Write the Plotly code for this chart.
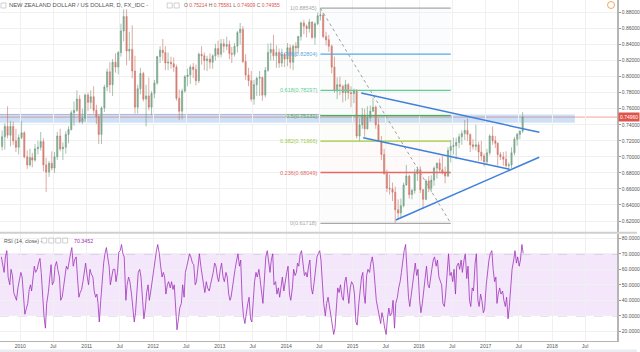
import pandas as pd
import plotly.graph_objects as go

# ---------------- DATA (semi-monthly candles) ----------------
first_open = 0.7130
high = [
    # 2009 (from 16 Sep)
    0.7330, 0.7420, 0.7630, 0.7446, 0.7440, 0.7350, 0.7280,
    # 2010
    0.7450, 0.7320, 0.7080, 0.7100, 0.7050, 0.7160, 0.7200, 0.7310, 0.7230, 0.6990, 0.6950, 0.7070,
    0.7060, 0.7310, 0.7350, 0.7180, 0.7320, 0.7380, 0.7580, 0.7690, 0.7830, 0.7770, 0.7600, 0.7790,
    # 2011
    0.7800, 0.7830, 0.7880, 0.7650, 0.7520, 0.7630, 0.7900, 0.8100, 0.8180, 0.8220, 0.8290, 0.8320,
    0.8660, 0.8840, 0.8840, 0.8560, 0.8640, 0.8260, 0.7900, 0.8110, 0.8060, 0.7900, 0.7990, 0.7820,
    # 2012
    0.7960, 0.8260, 0.8380, 0.8470, 0.8380, 0.8300, 0.8250, 0.8240, 0.8150, 0.7840, 0.7850, 0.8020,
    0.8100, 0.8150, 0.8170, 0.8150, 0.8300, 0.8380, 0.8300, 0.8260, 0.8290, 0.8280, 0.8410, 0.8450,
    # 2013
    0.8470, 0.8470, 0.8500, 0.8450, 0.8370, 0.8420, 0.8570, 0.8670, 0.8630, 0.8280, 0.8110, 0.8070,
    0.7960, 0.8000, 0.8070, 0.8000, 0.8120, 0.8410, 0.8420, 0.8520, 0.8390, 0.8350, 0.8350, 0.8300,
    # 2014
    0.8420, 0.8400, 0.8400, 0.8430, 0.8510, 0.8690, 0.8710, 0.8650, 0.8720, 0.8690, 0.8680, 0.8800,
    0.8855, 0.8800, 0.8560, 0.8520, 0.8400, 0.8250, 0.7990, 0.8000, 0.7900, 0.7960, 0.7920, 0.7880,
    # 2015
    0.7850, 0.7840, 0.7480, 0.7610, 0.7600, 0.7630, 0.7640, 0.7740, 0.7640, 0.7480, 0.7260, 0.7100,
    0.6840, 0.6780, 0.6680, 0.6630, 0.6470, 0.6480, 0.6680, 0.6900, 0.6780, 0.6600, 0.6850, 0.6880,
    # 2016
    0.6880, 0.6600, 0.6720, 0.6760, 0.6770, 0.6880, 0.6930, 0.6980, 0.7010, 0.6880, 0.7120, 0.7210,
    0.7240, 0.7240, 0.7290, 0.7330, 0.7460, 0.7480, 0.7290, 0.7220, 0.7400, 0.7190, 0.7200, 0.7040,
    # 2017
    0.7100, 0.7280, 0.7380, 0.7260, 0.7180, 0.7060, 0.7060, 0.7070, 0.6930, 0.7120, 0.7250, 0.7300,
    0.7330, 0.7558,
]
low = [
    0.7080, 0.7090, 0.7230, 0.7130, 0.7150, 0.7060, 0.7030,
    0.7220, 0.6980, 0.6850, 0.6880, 0.6870, 0.6940, 0.7030, 0.7080, 0.6820, 0.6560, 0.6750, 0.6830,
    0.6800, 0.6960, 0.7070, 0.6960, 0.7040, 0.7170, 0.7330, 0.7390, 0.7560, 0.7420, 0.7410, 0.7440,
    0.7570, 0.7600, 0.7540, 0.7410, 0.7160, 0.7160, 0.7560, 0.7820, 0.7800, 0.7760, 0.8050, 0.8030,
    0.8250, 0.8440, 0.8140, 0.8200, 0.7980, 0.7540, 0.7540, 0.7780, 0.7690, 0.7380, 0.7580, 0.7520,
    0.7730, 0.7900, 0.8170, 0.8200, 0.8080, 0.8080, 0.8100, 0.8060, 0.7700, 0.7460, 0.7470, 0.7800,
    0.7880, 0.7910, 0.7980, 0.7890, 0.7920, 0.8150, 0.8080, 0.8070, 0.8100, 0.8100, 0.8200, 0.8240,
    0.8240, 0.8300, 0.8330, 0.8220, 0.8170, 0.8250, 0.8300, 0.8400, 0.8170, 0.7960, 0.7880, 0.7690,
    0.7650, 0.7760, 0.7760, 0.7700, 0.7740, 0.8060, 0.8200, 0.8200, 0.8110, 0.8110, 0.8120, 0.8120,
    0.8130, 0.8100, 0.8080, 0.8250, 0.8290, 0.8450, 0.8530, 0.8490, 0.8550, 0.8470, 0.8400, 0.8640,
    0.8700, 0.8480, 0.8390, 0.8310, 0.8040, 0.7800, 0.7720, 0.7770, 0.7680, 0.7700, 0.7720, 0.7620,
    0.7670, 0.7230, 0.7190, 0.7350, 0.7250, 0.7340, 0.7440, 0.7560, 0.7350, 0.7190, 0.6960, 0.6780,
    0.6560, 0.6530, 0.6450, 0.6172, 0.6220, 0.6240, 0.6370, 0.6640, 0.6480, 0.6470, 0.6540, 0.6700,
    0.6550, 0.6350, 0.6460, 0.6560, 0.6560, 0.6640, 0.6730, 0.6800, 0.6780, 0.6670, 0.6750, 0.6930,
    0.7030, 0.6970, 0.7110, 0.7150, 0.7210, 0.7200, 0.7060, 0.7090, 0.7080, 0.6950, 0.6950, 0.6880,
    0.6900, 0.7020, 0.7150, 0.7110, 0.6890, 0.6960, 0.6890, 0.6870, 0.6820, 0.6860, 0.7020, 0.7140,
    0.7220, 0.7300,
]
close = [
    0.7250, 0.7380, 0.7270, 0.7380, 0.7200, 0.7120, 0.7240,
    0.7300, 0.7000, 0.6900, 0.6990, 0.6960, 0.7100, 0.7120, 0.7190, 0.6900, 0.6810, 0.6920, 0.6860,
    0.7000, 0.7260, 0.7100, 0.7120, 0.7280, 0.7340, 0.7550, 0.7580, 0.7720, 0.7440, 0.7480, 0.7770,
    0.7680, 0.7750, 0.7580, 0.7500, 0.7280, 0.7610, 0.7870, 0.8060, 0.7900, 0.8180, 0.8120, 0.8300,
    0.8570, 0.8750, 0.8320, 0.8340, 0.8070, 0.7620, 0.7850, 0.8040, 0.7720, 0.7760, 0.7620, 0.7790,
    0.7920, 0.8250, 0.8330, 0.8300, 0.8170, 0.8180, 0.8160, 0.8120, 0.7730, 0.7570, 0.7820, 0.8000,
    0.8020, 0.8120, 0.8090, 0.7950, 0.8280, 0.8260, 0.8200, 0.8220, 0.8180, 0.8260, 0.8350, 0.8280,
    0.8410, 0.8380, 0.8400, 0.8290, 0.8280, 0.8380, 0.8550, 0.8590, 0.8190, 0.8020, 0.7950, 0.7720,
    0.7900, 0.7980, 0.7990, 0.7770, 0.8080, 0.8300, 0.8340, 0.8260, 0.8300, 0.8170, 0.8280, 0.8220,
    0.8360, 0.8180, 0.8380, 0.8360, 0.8500, 0.8670, 0.8630, 0.8600, 0.8680, 0.8490, 0.8660, 0.8760,
    0.8770, 0.8500, 0.8460, 0.8380, 0.8120, 0.7820, 0.7900, 0.7880, 0.7800, 0.7900, 0.7800, 0.7790,
    0.7830, 0.7260, 0.7400, 0.7520, 0.7350, 0.7490, 0.7570, 0.7620, 0.7400, 0.7200, 0.7030, 0.6790,
    0.6610, 0.6600, 0.6560, 0.6340, 0.6300, 0.6390, 0.6650, 0.6760, 0.6530, 0.6580, 0.6790, 0.6840,
    0.6590, 0.6470, 0.6700, 0.6610, 0.6710, 0.6860, 0.6920, 0.6840, 0.6800, 0.6760, 0.7080, 0.7130,
    0.7140, 0.7180, 0.7250, 0.7290, 0.7330, 0.7280, 0.7150, 0.7130, 0.7150, 0.7060, 0.7010, 0.6940,
    0.7050, 0.7260, 0.7200, 0.7170, 0.7030, 0.7000, 0.6970, 0.6890, 0.6900, 0.7050, 0.7220, 0.7280,
    0.7320, 0.7496,
]

# RSI(14, close), four readings per month
rsi_2009 = [68, 64, 58, 68, 72, 55, 50, 60, 56, 45, 42, 40, 48, 52]
rsi_2010 = [58, 55, 40, 31, 35, 38, 47, 50, 46, 55, 62, 58, 60, 64, 67, 58,
            42, 30, 22, 38, 45, 56, 63, 50, 52, 62, 65, 60, 55, 40, 42, 48,
            58, 62, 60, 66, 70, 74, 62, 66, 68, 55, 42, 45, 47, 52, 58, 64]
rsi_2011 = [55, 50, 60, 57, 55, 46, 42, 44, 38, 26, 40, 52, 64, 70, 74, 68,
            62, 50, 56, 60, 60, 52, 58, 71, 72, 76, 70, 68, 40, 50, 55, 52,
            44, 35, 26, 32, 48, 58, 60, 55, 40, 28, 35, 45, 50, 40, 46, 52]
rsi_2012 = [62, 66, 72, 76, 70, 62, 55, 58, 55, 44, 50, 52, 48, 52, 47, 50,
            32, 21, 28, 35, 38, 50, 42, 58, 62, 66, 70, 68, 64, 63, 50, 52,
            64, 70, 62, 55, 50, 45, 52, 48, 46, 50, 54, 58, 64, 62, 55, 52]
rsi_2013 = [60, 64, 55, 52, 58, 55, 44, 40, 42, 48, 56, 60, 66, 70, 62, 66,
            40, 30, 25, 32, 38, 42, 28, 26, 40, 52, 58, 55, 60, 52, 42, 38,
            55, 68, 72, 64, 58, 66, 70, 50, 52, 44, 48, 42, 50, 55, 46, 52]
rsi_2014 = [58, 62, 44, 40, 48, 60, 56, 58, 64, 62, 70, 72, 62, 56, 58, 55,
            62, 66, 48, 44, 52, 60, 68, 70, 72, 66, 50, 38, 30, 38, 42, 36,
            28, 24, 18, 22, 35, 48, 45, 50, 42, 40, 52, 55, 46, 38, 48, 52]
rsi_2015 = [50, 44, 26, 24, 38, 48, 55, 58, 44, 38, 56, 60, 58, 64, 68, 62,
            50, 40, 35, 30, 25, 32, 28, 22, 18, 28, 35, 30, 32, 40, 22, 38,
            42, 48, 52, 58, 66, 72, 76, 58, 42, 36, 44, 48, 58, 64, 56, 60]
rsi_2016 = [40, 32, 38, 44, 55, 62, 50, 48, 56, 60, 66, 68, 62, 66, 55, 52,
            50, 38, 36, 44, 62, 70, 56, 58, 52, 60, 44, 62, 64, 60, 66, 58,
            66, 70, 54, 62, 40, 36, 48, 46, 64, 70, 40, 36, 44, 40, 32, 34]
rsi_2017 = [50, 58, 66, 70, 72, 60, 52, 55, 38, 44, 48, 44, 46, 40, 36, 42,
            28, 36, 52, 60, 66, 72, 64, 68, 62, 66, 76, 70.3452]

# Fibonacci retracement (2014 high -> 2015 low)
fib_ratios = ["1", "0.786", "0.618", "0.5", "0.382", "0.236", "0"]
fib_prices = [0.88545, 0.82804, 0.78297, 0.75131, 0.71966, 0.68049, 0.61718]
fib_colors = ["#a8a8a8", "#5aa8e2", "#62cc96", "#4cae50", "#9ccb3c", "#e46a66", "#a8a8a8"]
fib_start, fib_end = "2014-07-08", "2016-06-23"

# Trend lines (date, price)
trend_lines = [
    (("2015-02-17", 0.7796), ("2017-10-23", 0.7306)),
    (("2015-02-28", 0.7239), ("2017-05-12", 0.6845)),
    (("2015-08-26", 0.6213), ("2017-10-22", 0.6995)),
]
zone_low, zone_high = 0.7425, 0.7529
zone_end = "2018-05-06"
last_price = 0.7496

price_ticks = [0.62, 0.64, 0.66, 0.68, 0.70, 0.72, 0.74, 0.76, 0.78, 0.80, 0.82, 0.84, 0.86, 0.88]
rsi_ticks = [20, 30, 40, 50, 60, 70, 80]
time_ticks = ["2010-01-01", "2010-07-01", "2011-01-01", "2011-07-01", "2012-01-01", "2012-07-01",
              "2013-01-01", "2013-07-01", "2014-01-01", "2014-07-01", "2015-01-01", "2015-07-01",
              "2016-01-01", "2016-07-01", "2017-01-01", "2017-07-01", "2018-01-01", "2018-07-01"]
time_labels = ["2010", "Jul", "2011", "Jul", "2012", "Jul", "2013", "Jul", "2014", "Jul",
               "2015", "Jul", "2016", "Jul", "2017", "Jul", "2018", "Jul"]

# ---------------- build series ----------------
months = pd.date_range("2009-09-01", "2017-07-01", freq="MS")
period_starts = []
for m in months:
    period_starts.append(m)
    period_starts.append(m + pd.Timedelta(days=15))
period_starts = period_starts[1:]
candle_dates = [p + pd.Timedelta(days=7) for p in period_starts]
opens = [first_open] + close[:-1]
n = min(len(candle_dates), len(high), len(low), len(close))

rsi_vals = rsi_2009 + rsi_2010 + rsi_2011 + rsi_2012 + rsi_2013 + rsi_2014 + rsi_2015 + rsi_2016 + rsi_2017
rsi_dates = []
for i, m in enumerate(months):
    days = (19, 26) if i == 0 else (4, 11, 19, 26)
    for d in days:
        rsi_dates.append(m + pd.Timedelta(days=d - 1))
nr = min(len(rsi_dates), len(rsi_vals))

FONT = "Liberation Sans, Arial, sans-serif"
W, H = 640, 352
PW, PH = 620, 341          # plot area in px
T0 = pd.Timestamp("2010-01-01")
PX_PER_YEAR = 66.8
x_start = T0 + pd.Timedelta(days=(0 - 20.4) / PX_PER_YEAR * 365.25)
x_end = T0 + pd.Timedelta(days=(PW - 20.4) / PX_PER_YEAR * 365.25)

def px(x):
    return x / PW

def py(y):
    return (PH - y) / PH

main_range = [0.88 - (232 - 12.5) / 802, 0.88 + 12.5 / 802]
rsi_range = [80 - (341 - 238.3) / 1.55, 80 - (234 - 238.3) / 1.55]

fig = go.Figure()
fig.add_trace(go.Candlestick(
    x=candle_dates[:n], open=opens[:n], high=high[:n], low=low[:n], close=close[:n],
    increasing=dict(line=dict(color="#6b9a7e", width=0.6), fillcolor="#86b89b"),
    decreasing=dict(line=dict(color="#c97266", width=0.6), fillcolor="#e2877a"),
    whiskerwidth=0,
    xaxis="x", yaxis="y", showlegend=False, hoverinfo="skip"))
fig.add_trace(go.Scatter(
    x=rsi_dates[:nr], y=rsi_vals[:nr], mode="lines",
    line=dict(color="rgba(160,50,185,0.8)", width=1),
    xaxis="x2", yaxis="y2", showlegend=False, hoverinfo="skip"))

shapes = []
# support/resistance zone and last price line
shapes.append(dict(type="line", xref="paper", yref="y", x0=0, x1=1, y0=last_price, y1=last_price,
                   line=dict(color="#f2a29b", width=1), layer="below"))
shapes.append(dict(type="rect", xref="x", yref="y", x0=str(x_start), x1=zone_end, y0=zone_low, y1=zone_high,
                   fillcolor="rgba(80,145,220,0.28)", line=dict(width=0), layer="below"))
shapes.append(dict(type="line", xref="x", yref="y", x0=str(x_start), x1=fib_start, y0=zone_high, y1=zone_high,
                   line=dict(color="rgba(160,150,185,0.7)", width=1), layer="below"))
# fib background and lines
for i in range(len(fib_prices) - 1):
    c = fib_colors[i + 1].lstrip("#")
    r, g, b = int(c[0:2], 16), int(c[2:4], 16), int(c[4:6], 16)
    shapes.append(dict(type="rect", xref="x", yref="y", x0=fib_start, x1=fib_end,
                       y0=fib_prices[i + 1], y1=fib_prices[i],
                       fillcolor=f"rgba({r},{g},{b},0.03)", line=dict(width=0), layer="below"))
shapes.append(dict(type="line", xref="x", yref="y", x0=fib_start, x1=fib_end,
                   y0=fib_prices[0], y1=fib_prices[-1],
                   line=dict(color="#a0a0a0", width=1, dash="dot")))
for p, c in zip(fib_prices, fib_colors):
    shapes.append(dict(type="line", xref="x", yref="y", x0=fib_start, x1=fib_end, y0=p, y1=p,
                       line=dict(color=c, width=1.3)))
for (a, b) in trend_lines:
    shapes.append(dict(type="line", xref="x", yref="y", x0=a[0], y0=a[1], x1=b[0], y1=b[1],
                       line=dict(color="#4080dc", width=1.5)))
# RSI band
shapes.append(dict(type="rect", xref="paper", yref="y2", x0=0, x1=1, y0=30, y1=70,
                   fillcolor="#f4e7fc", line=dict(width=0), layer="below"))
for v in (30, 70):
    shapes.append(dict(type="line", xref="paper", yref="y2", x0=0, x1=1, y0=v, y1=v,
                       line=dict(color="rgba(170,140,190,0.8)", width=1, dash="dash"), layer="below"))
# pane separator
shapes.append(dict(type="line", xref="paper", yref="paper", x0=0, x1=W / PW, y0=py(232.8), y1=py(232.8),
                   line=dict(color="#cfcfcf", width=2)))
# bottom strip
shapes.append(dict(type="rect", xref="paper", yref="paper", x0=0, x1=W / PW, y0=py(352), y1=py(349.5),
                   fillcolor="#e9edf2", line=dict(width=0)))
# small header icons
def icon(x0, y0, s=5):
    return dict(type="rect", xref="paper", yref="paper", x0=px(x0), x1=px(x0 + s), y0=py(y0 + s), y1=py(y0),
                line=dict(color="#c4c4c4", width=0.8), fillcolor="rgba(0,0,0,0)")
shapes += [icon(1, 3), icon(168, 3), icon(175, 3)]
shapes += [icon(42, 238), icon(49, 238), icon(56, 238), icon(63, 238)]
shapes.append(dict(type="circle", xref="paper", yref="paper", x0=px(610.5), x1=px(617.5),
                   y0=py(8.5), y1=py(1.5), line=dict(color="#f5a55c", width=1)))

annotations = []
for lab, p, c in zip(fib_ratios, fib_prices, fib_colors):
    annotations.append(dict(x=fib_start, y=p, xref="x", yref="y", xanchor="right", yanchor="middle",
                            xshift=-1, text=f"{lab}({p:.5f})", showarrow=False,
                            font=dict(family=FONT, size=5.5, color=c)))
annotations.append(dict(x=px(7), y=py(5), xref="paper", yref="paper", xanchor="left", yanchor="middle",
                        text="NEW ZEALAND DOLLAR / US DOLLAR, D, FX_IDC -", showarrow=False,
                        font=dict(family=FONT, size=5.8, color="#555555")))
red = "#d9534f"
ohlc = (f"O <span style='color:{red}'>0.75214</span> H <span style='color:{red}'>0.75581</span> "
        f"L <span style='color:{red}'>0.74909</span> C <span style='color:{red}'>0.74955</span>")
annotations.append(dict(x=px(183), y=py(5), xref="paper", yref="paper", xanchor="left", yanchor="middle",
                        text=ohlc, showarrow=False, font=dict(family=FONT, size=5, color="#666666")))
annotations.append(dict(x=px(2), y=py(240.5), xref="paper", yref="paper", xanchor="left", yanchor="middle",
                        text="RSI (14, close) -", showarrow=False,
                        font=dict(family=FONT, size=5.3, color="#555555")))
annotations.append(dict(x=px(72), y=py(240.5), xref="paper", yref="paper", xanchor="left", yanchor="middle",
                        text=f"{rsi_2017[-1]:.4f}", showarrow=False,
                        font=dict(family=FONT, size=5.3, color="#9b2fb0")))
annotations.append(dict(x=1, y=last_price, xref="paper", yref="y", xanchor="left", yanchor="middle",
                        xshift=1, text=f"{last_price:.5f}", showarrow=False, bgcolor="#e0534a",
                        borderpad=1, font=dict(family=FONT, size=5, color="#ffffff")))

grid = "#f0f0f0"
axis_line = "#b5b5b5"
tick_font = dict(family=FONT, size=5, color="#555555")
fig.update_layout(
    width=W, height=H, margin=dict(l=0, r=W - PW, t=0, b=H - PH),
    paper_bgcolor="white", plot_bgcolor="white", hovermode=False, showlegend=False,
    font=dict(family=FONT),
    xaxis=dict(domain=[0, 1], anchor="y", range=[str(x_start), str(x_end)], type="date",
               tickvals=time_ticks, showticklabels=False, showgrid=True, gridcolor=grid,
               zeroline=False, rangeslider=dict(visible=False), ticks=""),
    xaxis2=dict(domain=[0, 1], anchor="y2", matches="x", type="date", tickvals=time_ticks,
                ticktext=time_labels, tickfont=tick_font, showgrid=True, gridcolor=grid,
                showline=True, linecolor=axis_line, linewidth=1, ticks="", zeroline=False),
    yaxis=dict(domain=[py(232), 1], anchor="x", side="right", range=main_range,
               tickvals=price_ticks, ticktext=[f"{v:.5f}" for v in price_ticks],
               tickfont=tick_font, showgrid=True, gridcolor=grid, showline=True,
               linecolor=axis_line, linewidth=1.5, ticks="outside", ticklen=2,
               tickcolor="#999999", zeroline=False),
    yaxis2=dict(domain=[0, py(234)], anchor="x2", side="right", range=rsi_range,
                tickvals=rsi_ticks, ticktext=[f"{v:.4f}" for v in rsi_ticks],
                tickfont=tick_font, showgrid=True, gridcolor=grid, showline=True,
                linecolor=axis_line, linewidth=1.5, ticks="outside", ticklen=2,
                tickcolor="#999999", zeroline=False),
    shapes=shapes, annotations=annotations,
)

fig.write_html("out.html")
